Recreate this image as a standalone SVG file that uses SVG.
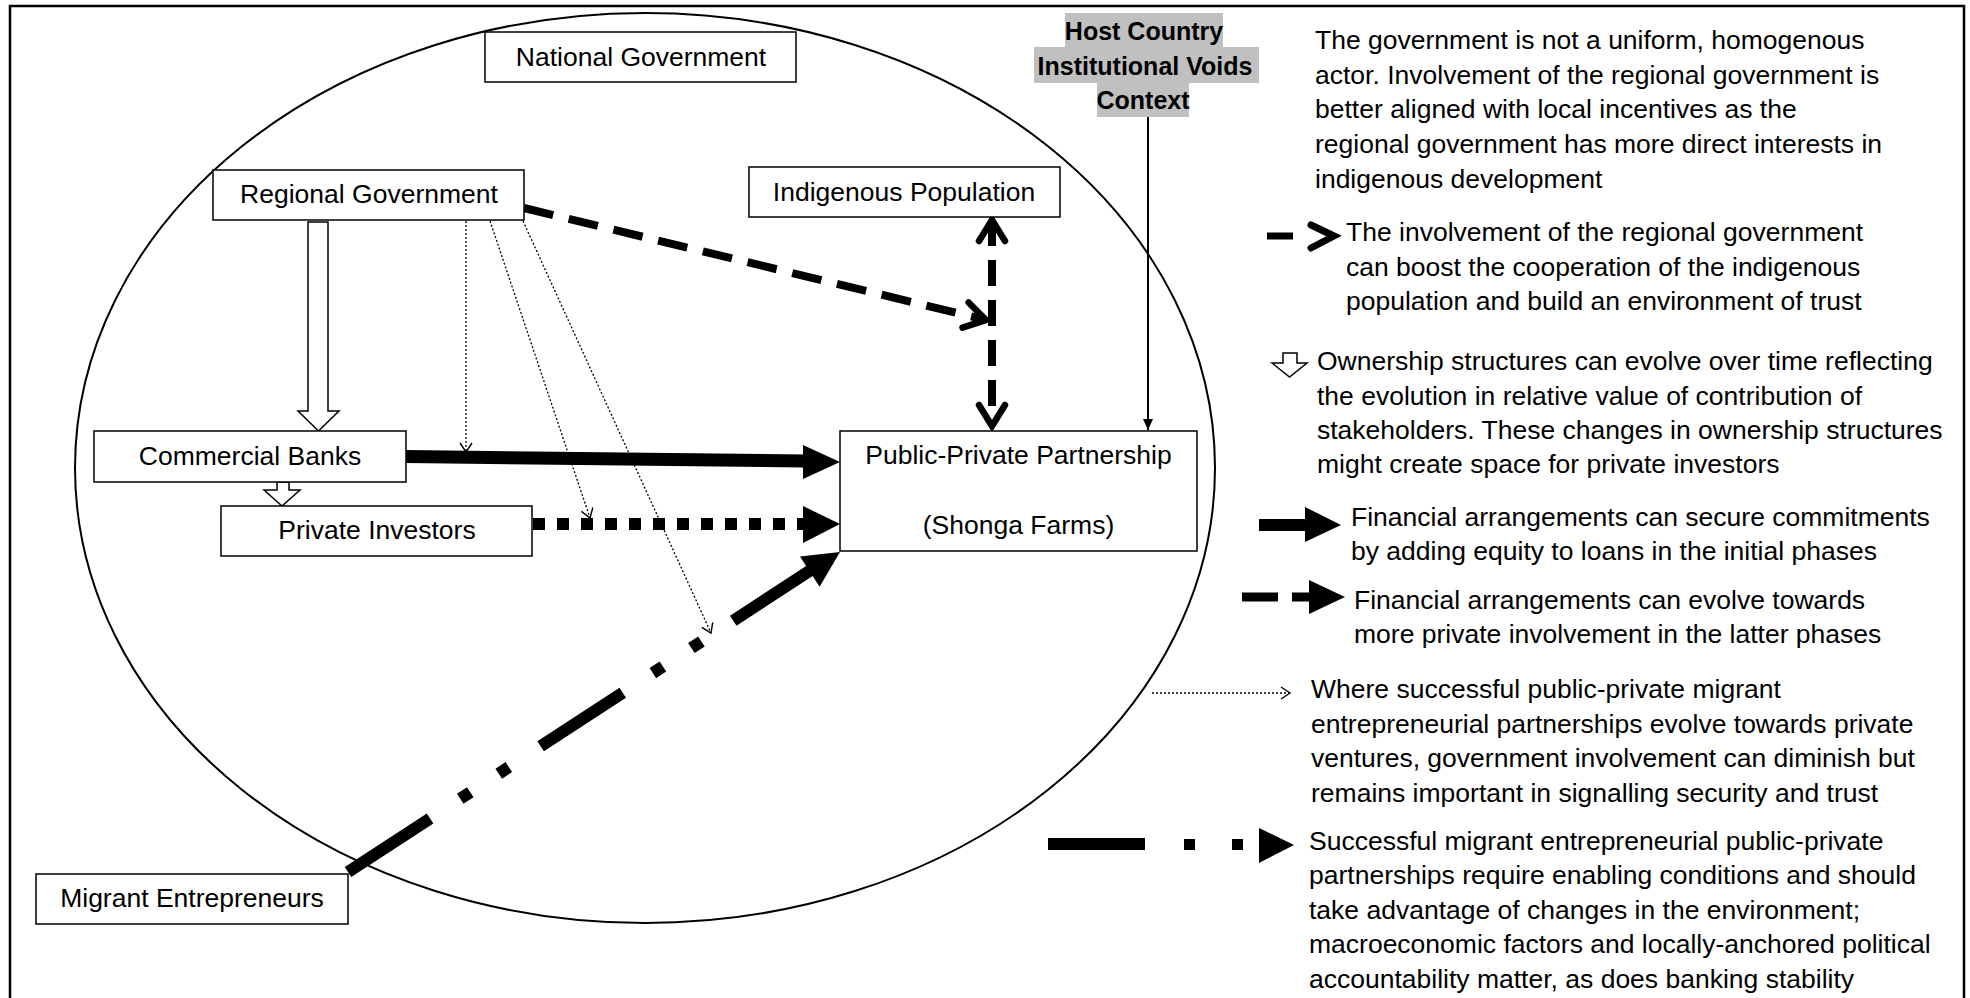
<svg xmlns="http://www.w3.org/2000/svg" width="1970" height="998" viewBox="0 0 1970 998">
<style>
.box{fill:#fff;stroke:#000;stroke-width:1.5}
.lbl{font-family:"Liberation Sans",Arial,sans-serif;font-size:26.5px;fill:#000;text-anchor:middle}
.leg{font-family:"Liberation Sans",Arial,sans-serif;font-size:26.5px;fill:#000}
.host{font-family:"Liberation Sans",Arial,sans-serif;font-size:25px;font-weight:bold;fill:#000;text-anchor:middle}
.thin{fill:none;stroke:#000;stroke-width:1.3;stroke-dasharray:2 2}
.hollow{fill:#fff;stroke:#000;stroke-width:1.5}
.solid{fill:#000;stroke:none}
</style>
<defs>
<marker id="thinChev" markerUnits="userSpaceOnUse" viewBox="-12 -8 14 16" refX="0" refY="0" markerWidth="14" markerHeight="16" orient="auto" overflow="visible">
<path d="M-9,-6 L0,0 L-9,6" fill="none" stroke="#000" stroke-width="1.4"/>
</marker>
<marker id="boldChev" markerUnits="userSpaceOnUse" viewBox="-30 -20 36 40" refX="0" refY="0" markerWidth="36" markerHeight="40" orient="auto-start-reverse" overflow="visible">
<path d="M-21,-13 L0,0 L-21,13" fill="none" stroke="#000" stroke-width="6.5" stroke-linecap="round" stroke-linejoin="miter"/>
</marker>
<marker id="smallTri" markerUnits="userSpaceOnUse" viewBox="-12 -6 12 12" refX="0" refY="0" markerWidth="12" markerHeight="12" orient="auto" overflow="visible">
<path d="M-11,-5 L0,0 L-11,5 Z" fill="#000"/>
</marker>
</defs>
<rect width="1970" height="998" fill="#fff"/>
<rect x="10" y="6" width="1954" height="1010" fill="none" stroke="#000" stroke-width="2.5"/>
<ellipse cx="645" cy="468" rx="570" ry="455" fill="none" stroke="#000" stroke-width="2"/>

<g id="connectors">
<polygon id="c-reg-banks" class="hollow" points="308,222 328,222 328,411 339,411 318.5,431 298,411 308,411"/>
<polygon id="c-banks-priv" class="hollow" points="277,482 289,482 289,490 300,490 282,506 264,490 277,490"/>
<g id="c-banks-ppp">
<polygon class="solid" points="406,450 805,454.5 805,467.5 406,463"/>
<polygon class="solid" points="803,445 840,462 803,479"/>
</g>
<g id="c-priv-ppp">
<line x1="533" y1="524" x2="806" y2="524" stroke="#000" stroke-width="12" stroke-dasharray="12 12"/>
<polygon class="solid" points="803,506 840,524 803,543"/>
</g>
<g id="c-mig-ppp">
<path d="M348,872 L814,568" fill="none" stroke="#000" stroke-width="12" stroke-dasharray="98 36 12 34 12 38"/>
<polygon class="solid" points="840,552 819.6,586.8 800,556.6"/>
</g>
<path id="c-reg-ind" d="M524,208 L986,320" fill="none" stroke="#000" stroke-width="8" stroke-dasharray="30 16" marker-end="url(#boldChev)"/>
<path id="c-ind-ppp" d="M992,220 L992,426" fill="none" stroke="#000" stroke-width="8" stroke-dasharray="26 14" marker-start="url(#boldChev)" marker-end="url(#boldChev)"/>
<path id="c-host-ppp" d="M1148,117 L1148,430" fill="none" stroke="#000" stroke-width="2" marker-end="url(#smallTri)"/>
<path id="c-reg-a" class="thin" d="M466,221 L466,452" marker-end="url(#thinChev)"/>
<path id="c-reg-b" class="thin" d="M490,221 L590,518" marker-end="url(#thinChev)"/>
<path id="c-reg-c" class="thin" d="M523,221 L711,633" marker-end="url(#thinChev)"/>
</g>

<g id="n-national"><rect class="box" x="485" y="32" width="311" height="50"/><text class="lbl" x="641" y="66">National Government</text></g>
<g id="n-regional"><rect class="box" x="213" y="170" width="311" height="50"/><text class="lbl" x="369" y="203">Regional Government</text></g>
<g id="n-indigenous"><rect class="box" x="749" y="167" width="311" height="50"/><text class="lbl" x="904" y="201">Indigenous Population</text></g>
<g id="n-banks"><rect class="box" x="94" y="431" width="312" height="51"/><text class="lbl" x="250" y="465">Commercial Banks</text></g>
<g id="n-private"><rect class="box" x="221" y="506" width="311" height="50"/><text class="lbl" x="377" y="539">Private Investors</text></g>
<g id="n-migrant"><rect class="box" x="36" y="874" width="312" height="50"/><text class="lbl" x="192" y="907">Migrant Entrepreneurs</text></g>
<g id="n-ppp"><rect class="box" x="840" y="431" width="357" height="120"/><text class="lbl" x="1018.5" y="464">Public-Private Partnership</text><text class="lbl" x="1018.5" y="534">(Shonga Farms)</text></g>
<g id="n-host">
<rect x="1065" y="13" width="158" height="35" fill="#c0c0c0"/>
<rect x="1034" y="47" width="225" height="36" fill="#c0c0c0"/>
<rect x="1097" y="82" width="92" height="35" fill="#c0c0c0"/>
<text class="host" x="1144" y="40">Host Country</text>
<text class="host" x="1145" y="75">Institutional Voids</text>
<text class="host" x="1143" y="109">Context</text>
</g>

<g id="legend">
<text class="leg" x="1315" y="49">The government is not a uniform, homogenous</text>
<text class="leg" x="1315" y="84">actor. Involvement of the regional government is</text>
<text class="leg" x="1315" y="118">better aligned with local incentives as the</text>
<text class="leg" x="1315" y="153">regional government has more direct interests in</text>
<text class="leg" x="1315" y="188">indigenous development</text>

<line x1="1267" y1="236" x2="1293" y2="236" stroke="#000" stroke-width="7"/>
<path d="M1311,225 L1334,236 L1311,248" fill="none" stroke="#000" stroke-width="7" stroke-linecap="round"/>
<text class="leg" x="1346" y="241">The involvement of the regional government</text>
<text class="leg" x="1346" y="276">can boost the cooperation of the indigenous</text>
<text class="leg" x="1346" y="310">population and build an environment of trust</text>

<polygon class="hollow" points="1283,353 1297,353 1297,363 1307,363 1289.5,377 1272,363 1283,363"/>
<text class="leg" x="1317" y="370">Ownership structures can evolve over time reflecting</text>
<text class="leg" x="1317" y="405">the evolution in relative value of contribution of</text>
<text class="leg" x="1317" y="439">stakeholders. These changes in ownership structures</text>
<text class="leg" x="1317" y="473">might create space for private investors</text>

<rect class="solid" x="1259" y="519" width="48" height="12"/>
<polygon class="solid" points="1305,507 1341,525 1305,542"/>
<text class="leg" x="1351" y="526">Financial arrangements can secure commitments</text>
<text class="leg" x="1351" y="560">by adding equity to loans in the initial phases</text>

<rect class="solid" x="1242" y="592.5" width="36" height="9"/>
<rect class="solid" x="1292" y="592.5" width="18" height="9"/>
<polygon class="solid" points="1309,580 1345,597 1309,614"/>
<text class="leg" x="1354" y="609">Financial arrangements can evolve towards</text>
<text class="leg" x="1354" y="643">more private involvement in the latter phases</text>

<path class="thin" d="M1152,693 L1290,693" marker-end="url(#thinChev)"/>
<text class="leg" x="1311" y="698">Where successful public-private migrant</text>
<text class="leg" x="1311" y="733">entrepreneurial partnerships evolve towards private</text>
<text class="leg" x="1311" y="767">ventures, government involvement can diminish but</text>
<text class="leg" x="1311" y="802">remains important in signalling security and trust</text>

<rect class="solid" x="1048" y="838" width="97" height="12"/>
<rect class="solid" x="1184" y="839" width="11" height="11"/>
<rect class="solid" x="1232" y="839" width="11" height="11"/>
<polygon class="solid" points="1259,828 1294,845 1259,863"/>
<text class="leg" x="1309" y="850">Successful migrant entrepreneurial public-private</text>
<text class="leg" x="1309" y="884">partnerships require enabling conditions and should</text>
<text class="leg" x="1309" y="919">take advantage of changes in the environment;</text>
<text class="leg" x="1309" y="953">macroeconomic factors and locally-anchored political</text>
<text class="leg" x="1309" y="988">accountability matter, as does banking stability</text>
</g>
</svg>
